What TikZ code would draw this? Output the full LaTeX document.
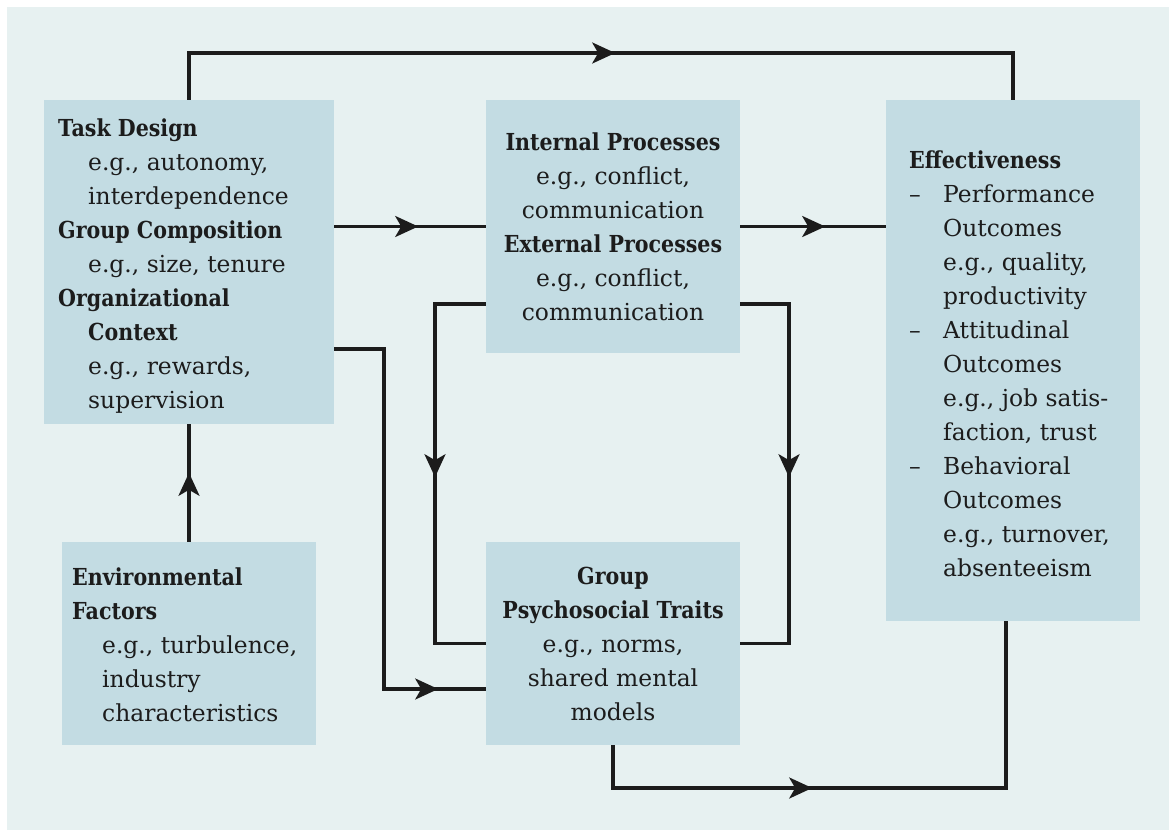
\documentclass[tikz,border=0pt]{standalone}
\usepackage{fontspec}
\setmainfont{DejaVu Serif}[BoldFeatures={FakeStretch=0.88}]
\usetikzlibrary{arrows.meta,decorations.markings}
\definecolor{bgc}{RGB}{231,241,241}
\definecolor{boxc}{RGB}{195,220,227}
\definecolor{ink}{RGB}{28,28,28}
\newcommand\hd[1]{\textbf{#1}}
\newcommand\ind{\hspace*{30pt}}
\newcommand\dsh{\makebox[34pt][l]{--}}
\tikzset{
  box/.style={fill=boxc, inner sep=0pt, text=ink,
    font=\fontsize{23.4}{34}\selectfont},
  txt/.style={anchor=base west, inner sep=0pt, text=ink,
    font=\fontsize{23.4}{34}\selectfont},
  conn/.style={draw=ink, line width=3.1pt},
  midarrow/.style={postaction={decorate}, decoration={markings,
    mark=at position #1 with {\arrow{Stealth[length=23pt,width=21pt,inset=6pt]}}}}
}
\begin{document}
\begin{tikzpicture}[x=1pt,y=-1pt]
\useasboundingbox (0,0) rectangle (1169,830);
\fill[white] (0,0) rectangle (1169,830);
\fill[bgc] (7,7) rectangle (1169,830);

% boxes
\node[box, minimum width=290pt, minimum height=324pt] (td) at (189,262) {};
\node[box, minimum width=254pt, minimum height=203pt] (env) at (189,643.5) {};
\node[box, minimum width=254pt, minimum height=253pt, align=center] (ip) at (613,226.5)
  {\hd{Internal Processes}\\e.g., conflict,\\communication\\\hd{External Processes}\\e.g., conflict,\\communication};
\node[box, minimum width=254pt, minimum height=203pt, align=center] (gp) at (613,643.5)
  {\hd{Group}\\\hd{Psychosocial Traits}\\e.g., norms,\\shared mental\\models};
\node[box, minimum width=254pt, minimum height=521pt] (eff) at (1013,360.5) {};

% left-aligned texts
\node[txt] (tdtext) at (58,136) {\begin{tabular}[t]{@{}l@{}}
  \hd{Task Design}\\
  \ind e.g., autonomy,\\
  \ind interdependence\\
  \hd{Group Composition}\\
  \ind e.g., size, tenure\\
  \hd{Organizational}\\
  \ind\hd{Context}\\
  \ind e.g., rewards,\\
  \ind supervision
\end{tabular}};
\node[txt] (envtext) at (72,585) {\begin{tabular}[t]{@{}l@{}}
  \hd{Environmental}\\
  \hd{Factors}\\
  \ind e.g., turbulence,\\
  \ind industry\\
  \ind characteristics
\end{tabular}};
\node[txt] (efftext) at (909,168) {\begin{tabular}[t]{@{}l@{}}
  \hd{Effectiveness}\\
  \dsh Performance\\
  \hspace*{34pt}Outcomes\\
  \hspace*{34pt}e.g., quality,\\
  \hspace*{34pt}productivity\\
  \dsh Attitudinal\\
  \hspace*{34pt}Outcomes\\
  \hspace*{34pt}e.g., job satis-\\
  \hspace*{34pt}faction, trust\\
  \dsh Behavioral\\
  \hspace*{34pt}Outcomes\\
  \hspace*{34pt}e.g., turnover,\\
  \hspace*{34pt}absenteeism
\end{tabular}};

% routing helpers
\coordinate (topline) at (600,53);
\coordinate (botline) at (800,788);
\coordinate (lane1) at (384,0);
\coordinate (lane2) at (435,0);
\coordinate (lane3) at (789,0);
\coordinate (tdout) at ([yshift=-87pt]td.east);
\coordinate (gpin) at ([yshift=-45.5pt]gp.west);
\coordinate (ipl) at ([yshift=-77.5pt]ip.west);
\coordinate (ipr) at ([yshift=-77.5pt]ip.east);
\coordinate (effb) at ([xshift=-7pt]eff.south);

% connectors
\draw[conn, midarrow=473pt] (td.north) -- (td.north |- topline) -- (eff.north |- topline) -- (eff.north);
\draw[conn, midarrow=84pt] (td.east |- ip.west) -- (ip.west);
\draw[conn, midarrow=85pt] (ip.east) -- (eff.west |- ip.east);
\draw[conn, midarrow=444pt] (tdout) -- (tdout -| lane1) -- (lane1 |- gpin) -- (gpin);
\draw[conn, midarrow=224pt] (ipl) -- (ipl -| lane2) -- (lane2 |- gp.west) -- (gp.west);
\draw[conn, midarrow=222pt] (ipr) -- (ipr -| lane3) -- (lane3 |- gp.east) -- (gp.east);
\draw[conn, midarrow=69pt] (env.north) -- (td.south);
\draw[conn, midarrow=242pt] (gp.south) -- (gp.south |- botline) -- (effb |- botline) -- (effb);
\end{tikzpicture}
\end{document}
